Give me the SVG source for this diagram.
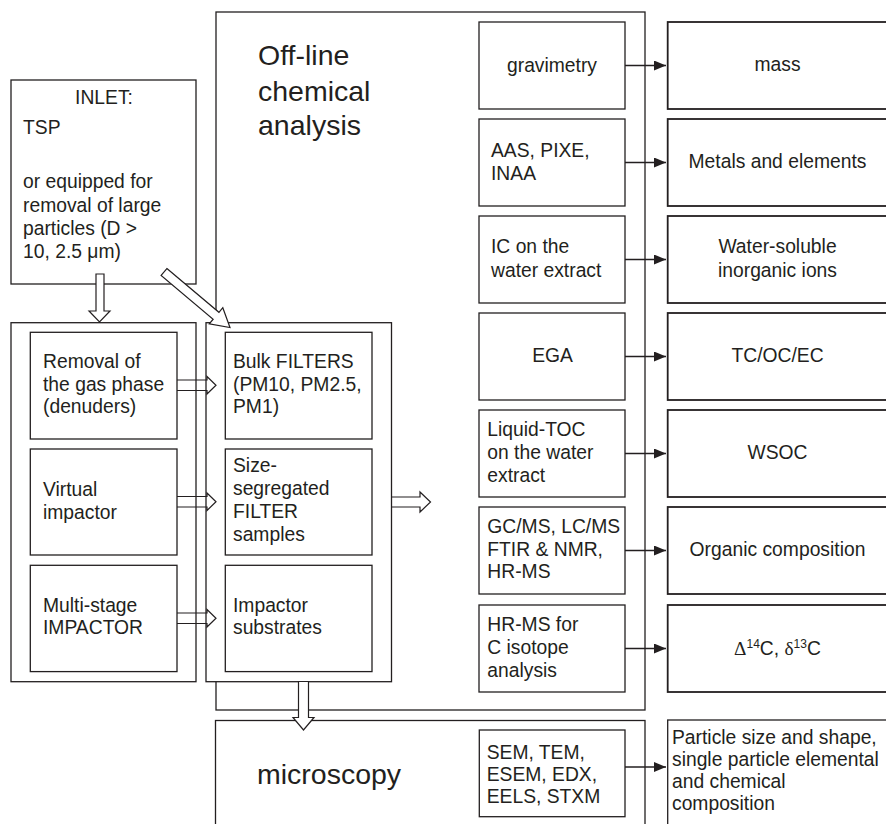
<svg xmlns="http://www.w3.org/2000/svg" width="886" height="824" viewBox="0 0 886 824">
<style>
.b{fill:#fff;stroke:#231f20;stroke-width:1.3}
.r{stroke-width:1.8}
.t{font-family:"Liberation Sans",Arial,sans-serif;font-size:19.3px;fill:#231f20}
.big{font-size:28.5px}
.c{text-anchor:middle}
.ba{fill:#fff;stroke:#231f20;stroke-width:1.2;stroke-linejoin:miter}
.bn{fill:none;stroke:#231f20;stroke-width:1.2}
.ln{stroke:#231f20;stroke-width:1.3;fill:none;marker-end:url(#ah)}
.sym{font-family:"Liberation Serif","Times New Roman",serif}
</style>
<defs>
<marker id="ah" viewBox="0 0 12 10" refX="12" refY="5" markerWidth="12" markerHeight="10" markerUnits="userSpaceOnUse" orient="auto">
<path d="M0,0 L12,5 L0,10 z" fill="#231f20"/>
</marker>
</defs>
<rect width="886" height="824" fill="#fff"/>

<g id="offline">
<rect class="b" x="216" y="12" width="429" height="698"/>
<text class="t big"><tspan x="258" y="65">Off-line</tspan><tspan x="258" y="101">chemical</tspan><tspan x="258" y="135">analysis</tspan></text>
</g>

<g id="inlet">
<rect class="b" x="11" y="80" width="185" height="204"/>
<text class="t c" x="104" y="104">INLET:</text>
<text class="t"><tspan x="23" y="134">TSP</tspan><tspan x="23" y="188">or equipped for</tspan><tspan x="23" y="211.5">removal of large</tspan><tspan x="23" y="234.5">particles (D &gt;</tspan><tspan x="23" y="257.5">10, 2.5 μm)</tspan></text>
</g>

<g id="sampling">
<rect class="b" x="11" y="322.7" width="185" height="359"/>
<g id="denuders"><rect class="b" x="30.3" y="332.3" width="146.7" height="106.7"/>
<text class="t"><tspan x="43" y="368">Removal of</tspan><tspan x="43" y="391">the gas phase</tspan><tspan x="43" y="413">(denuders)</tspan></text></g>
<g id="virtual"><rect class="b" x="30.3" y="449" width="146.7" height="106"/>
<text class="t"><tspan x="43" y="496">Virtual</tspan><tspan x="43" y="518.5">impactor</tspan></text></g>
<g id="multistage"><rect class="b" x="30.3" y="565.3" width="146.7" height="106.3"/>
<text class="t"><tspan x="43" y="611.5">Multi-stage</tspan><tspan x="43" y="634">IMPACTOR</tspan></text></g>
</g>

<g id="samples">
<rect class="b" x="206" y="322.7" width="185.5" height="359"/>
<g id="bulk"><rect class="b" x="225.3" y="332.3" width="146.7" height="106.7"/>
<text class="t"><tspan x="233" y="368">Bulk FILTERS</tspan><tspan x="233" y="391">(PM10, PM2.5,</tspan><tspan x="233" y="413">PM1)</tspan></text></g>
<g id="sizeseg"><rect class="b" x="225.3" y="449" width="146.7" height="106"/>
<text class="t"><tspan x="233" y="472">Size-</tspan><tspan x="233" y="495">segregated</tspan><tspan x="233" y="518">FILTER</tspan><tspan x="233" y="541">samples</tspan></text></g>
<g id="substrates"><rect class="b" x="225.3" y="565.3" width="146.7" height="106.3"/>
<text class="t"><tspan x="233" y="611.5">Impactor</tspan><tspan x="233" y="634">substrates</tspan></text></g>
</g>

<g id="gravimetry"><rect class="b" x="479" y="22" width="146" height="87"/><text class="t c" x="552" y="71.7">gravimetry</text></g>
<g id="aas"><rect class="b" x="479" y="119" width="146" height="87"/><text class="t"><tspan x="491" y="156.7">AAS, PIXE,</tspan><tspan x="491" y="180">INAA</tspan></text></g>
<g id="ic"><rect class="b" x="479" y="216" width="146" height="87"/><text class="t"><tspan x="491" y="253.3">IC on the</tspan><tspan x="491" y="276.7">water extract</tspan></text></g>
<g id="ega"><rect class="b" x="479" y="313" width="146" height="87"/><text class="t c" x="552.5" y="362.3">EGA</text></g>
<g id="toc"><rect class="b" x="479" y="410" width="146" height="87"/><text class="t"><tspan x="487.3" y="436">Liquid-TOC</tspan><tspan x="487.3" y="459.3">on the water</tspan><tspan x="487.3" y="481.7">extract</tspan></text></g>
<g id="gcms"><rect class="b" x="479" y="507" width="146" height="87"/><text class="t"><tspan x="487.3" y="532.7">GC/MS, LC/MS</tspan><tspan x="487.3" y="556">FTIR &amp; NMR,</tspan><tspan x="487.3" y="578.3">HR-MS</tspan></text></g>
<g id="hrms"><rect class="b" x="479" y="605" width="146" height="87"/><text class="t"><tspan x="487.3" y="630.7">HR-MS for</tspan><tspan x="487.3" y="654.3">C isotope</tspan><tspan x="487.3" y="677.3">analysis</tspan></text></g>

<g id="mass"><rect class="b r" x="667.7" y="22" width="240" height="87"/><text class="t c" x="777.5" y="71">mass</text></g>
<g id="metals"><rect class="b r" x="667.7" y="119" width="240" height="87"/><text class="t c" x="777.5" y="168.3">Metals and elements</text></g>
<g id="ions"><rect class="b r" x="667.7" y="216" width="240" height="87"/><text class="t c"><tspan x="777.5" y="253.3">Water-soluble</tspan><tspan x="777.5" y="276.7">inorganic ions</tspan></text></g>
<g id="tcocec"><rect class="b r" x="667.7" y="313" width="240" height="87"/><text class="t c" x="777.5" y="362.3">TC/OC/EC</text></g>
<g id="wsoc"><rect class="b r" x="667.7" y="410" width="240" height="87"/><text class="t c" x="777.5" y="459">WSOC</text></g>
<g id="organic"><rect class="b r" x="667.7" y="507" width="240" height="87"/><text class="t c" x="777.5" y="556">Organic composition</text></g>
<g id="isotope"><rect class="b r" x="667.7" y="605" width="240" height="87"/><text class="t c" x="777.5" y="655"><tspan class="sym">Δ</tspan><tspan font-size="12" dy="-7">14</tspan><tspan dy="7">C, </tspan><tspan class="sym">δ</tspan><tspan font-size="12" dy="-7">13</tspan><tspan dy="7">C</tspan></text></g>

<g id="microscopy">
<rect class="b" x="215.5" y="720.5" width="429.5" height="150"/>
<text class="t big" x="257" y="784">microscopy</text>
</g>
<g id="sem"><rect class="b" x="479.3" y="730" width="145.7" height="86.7"/><text class="t"><tspan x="486.7" y="759">SEM, TEM,</tspan><tspan x="486.7" y="781">ESEM, EDX,</tspan><tspan x="486.7" y="803">EELS, STXM</tspan></text></g>
<g id="particle"><rect class="b" x="667.7" y="720" width="240" height="150"/><text class="t"><tspan x="672" y="744">Particle size and shape,</tspan><tspan x="672" y="766">single particle elemental</tspan><tspan x="672" y="788">and chemical</tspan><tspan x="672" y="810">composition</tspan></text></g>

<g id="connectors">
<path class="ba" d="M96,274 H104 V311 H110 L99.5,322 L89,311 H96 Z"/>
<polygon class="ba" transform="translate(164,272) rotate(40.06)" points="0,-4.5 68,-4.5 68,-10.5 86.2,0 68,10.5 68,4.5 0,4.5"/>
<path class="bn" d="M177,380 H207 V376.5 L216,385.3 L207,394 V390.5 H177"/>
<path class="bn" d="M177,496.5 H207 V493 L216,501.7 L207,510.5 V507 H177"/>
<path class="bn" d="M177,613 H207 V609.5 L216,618.3 L207,627 V623.5 H177"/>
<path class="bn" d="M391.5,497 H420 V492 L430.5,502 L420,512 V507 H391.5"/>
<path class="ba" d="M298.5,681.5 H308.5 V717.5 H314 L303.5,730 L293,717.5 H298.5 Z"/>
<line class="ln" x1="625" y1="65.5" x2="666" y2="65.5"/>
<line class="ln" x1="625" y1="162.5" x2="666" y2="162.5"/>
<line class="ln" x1="625" y1="259.5" x2="666" y2="259.5"/>
<line class="ln" x1="625" y1="356.5" x2="666" y2="356.5"/>
<line class="ln" x1="625" y1="453.5" x2="666" y2="453.5"/>
<line class="ln" x1="625" y1="550.5" x2="666" y2="550.5"/>
<line class="ln" x1="625" y1="648.5" x2="666" y2="648.5"/>
<line class="ln" x1="625" y1="767" x2="666" y2="767"/>
</g>
</svg>
